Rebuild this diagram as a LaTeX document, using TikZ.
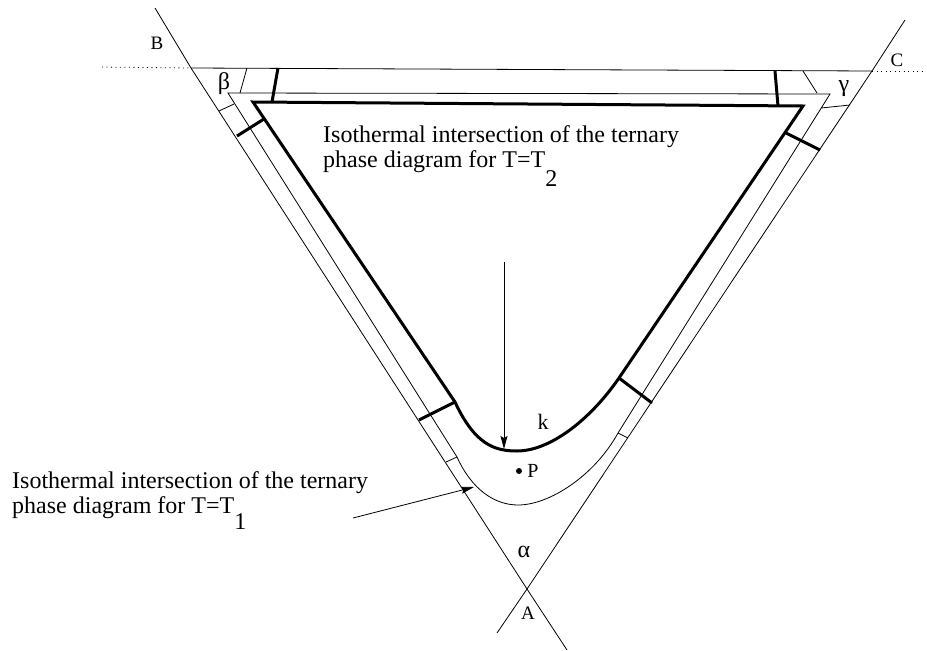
\documentclass[tikz,border=0pt]{standalone}
\usepackage{fontspec}
\setmainfont{Liberation Serif}
\usetikzlibrary{arrows.meta}

\begin{document}
\begin{tikzpicture}[x=1pt, y=-1pt,
    thinln/.style  = {line width=0.8pt},
    thickln/.style = {line width=3pt, line join=miter},
    guide/.style   = {line width=0.8pt, dash pattern=on 1pt off 3.5pt},
    arr/.style     = {-{Stealth[length=13pt, width=7pt, inset=2pt]}, line width=0.8pt},
    lbl/.style     = {font=\fontsize{19}{19}\selectfont, inner sep=0pt},
    greek/.style   = {font=\fontsize{24}{24}\selectfont, inner sep=0pt},
    note/.style    = {font=\fontsize{24}{25}\selectfont, align=left,
                      inner sep=0pt, anchor=north west}
  ]
    \useasboundingbox (0,0) rectangle (927,651);

    % outer triangle and its extensions
    \coordinate (Bv) at (191,68);
    \coordinate (Cv) at (872,71);
    \coordinate (Av) at (527,589);
    \coordinate (Bext) at (155,8);
    \coordinate (Cext) at (905,20);
    \coordinate (ABext) at (567,650);
    \coordinate (CAext) at (497,633);
    \coordinate (Bdot) at (102,67);
    \coordinate (Cdot) at (925,71);

    \draw[thinln] (Bext) -- (Bv) -- (Av) -- (ABext);
    \draw[thinln] (Cext) -- (Cv) -- (Av) -- (CAext);
    \draw[thinln] (Bv) -- (Cv);
    \draw[guide] (Bdot) -- (Bv);
    \draw[guide] (Cv) -- (Cdot);

    % T = T1 section
    \coordinate (s1) at (228,93);
    \coordinate (s2) at (830,94);
    \coordinate (sL) at (457,457);
    \coordinate (sR) at (618,433);
    \draw[thinln] (sR) -- (s2) -- (s1) -- (sL)
          .. controls (472,490) and (495,505) .. (518,505)
          .. controls (550,505) and (595,475) .. (sR);

    % T = T2 section
    \coordinate (t1) at (253,102);
    \coordinate (t2) at (803,106);
    \coordinate (tL) at (455,402);
    \coordinate (tR) at (619,378);
    \draw[thickln] (tR) -- (t2) -- (t1) -- (tL)
          .. controls (475,445) and (495,451) .. (517,451)
          .. controls (550,451) and (590,420) .. (tR);

    % tie lines
    \coordinate (a1) at (247,68);  \coordinate (a2) at (240,93);
    \coordinate (b1) at (219,111); \coordinate (b2) at (234,104);
    \coordinate (c1) at (446,462);
    \coordinate (d1) at (628,438);
    \coordinate (e1) at (850,105); \coordinate (e2) at (821,108);
    \coordinate (f1) at (803,71);  \coordinate (f2) at (817,93);
    \draw[thinln] (a1) -- (a2);
    \draw[thinln] (b1) -- (b2);
    \draw[thinln] (c1) -- (sL);
    \draw[thinln] (d1) -- (sR);
    \draw[thinln] (e1) -- (e2);
    \draw[thinln] (f1) -- (f2);

    \coordinate (g1) at (278,68);  \coordinate (g2) at (272,102);
    \coordinate (h1) at (237,136); \coordinate (h2) at (264,119);
    \coordinate (i1) at (419,420);
    \coordinate (j1) at (652,403);
    \coordinate (m1) at (820,150); \coordinate (m2) at (786,133);
    \coordinate (n1) at (775,71);  \coordinate (n2) at (778,106);
    \draw[thickln] (g1) -- (g2);
    \draw[thickln] (h1) -- (h2);
    \draw[thickln] (i1) -- (tL);
    \draw[thickln] (j1) -- (tR);
    \draw[thickln] (m1) -- (m2);
    \draw[thickln] (n1) -- (n2);

    % labels
    \node[lbl] (labB) at (157,43) {B};
    \node[lbl] (labC) at (897,60) {C};
    \node[lbl] (labA) at (528,613) {A};
    \node[greek] (labbeta)  at (224,84) {β};
    \node[greek] (labgamma) at (844,89) {γ};
    \node[greek] (labalpha) at (524,552) {α};
    \node[lbl, font=\fontsize{22}{22}\selectfont] (labk) at (543,422) {k};
    \fill (519,471) circle (3pt);
    \node[lbl, font=\fontsize{20}{20}\selectfont] (labP) at (533,471) {P};

    \node[note] (noteT2) at (323,125)
          {Isothermal intersection of the ternary\\
           phase diagram for T=T\raisebox{-19pt}{2}};
    \node[note] (noteT1) at (12,471)
          {Isothermal intersection of the ternary\\
           phase diagram for T=T\raisebox{-16pt}{1}};

    \coordinate (T2tail) at (504,262);
    \coordinate (T2tip)  at (504,449);
    \coordinate (T1tail) at (353,518);
    \coordinate (T1tip)  at (474,487);
    \draw[arr] (T2tail) -- (T2tip);
    \draw[arr] (T1tail) -- (T1tip);
\end{tikzpicture}
\end{document}
